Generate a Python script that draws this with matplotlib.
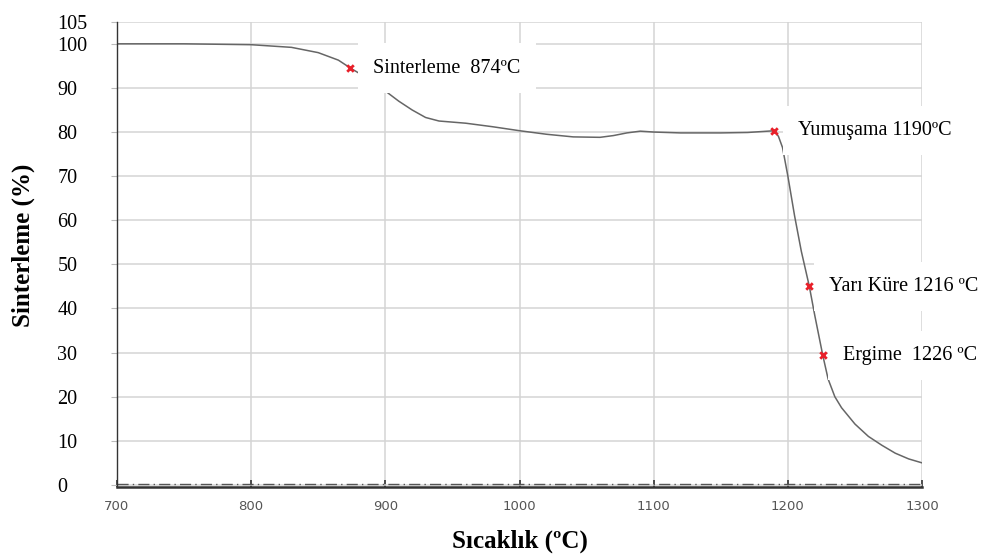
import matplotlib
matplotlib.use("Agg")
import matplotlib.pyplot as plt

temps = [700, 750, 800, 830, 850, 865, 874, 885, 900, 910, 920, 930, 940, 960, 980, 1000, 1020,
         1040, 1060, 1070, 1080, 1090, 1100, 1120, 1150, 1170, 1190, 1193, 1196, 1200, 1205, 1210,
         1216, 1220, 1226, 1230, 1235, 1240, 1250, 1260, 1270, 1280, 1290, 1300]
sinter = [100, 100, 99.8, 99.2, 98.0, 96.3, 94.5, 92.5, 89.3, 87.0, 85.0, 83.3, 82.5, 82.0, 81.2, 80.3, 79.5,
          78.9, 78.8, 79.2, 79.8, 80.2, 80.0, 79.8, 79.8, 79.9, 80.3, 79.0, 76.5, 70.0, 61.0, 53.0,
          45.0, 38.5, 29.4, 24.0, 20.0, 17.5, 13.8, 11.0, 9.0, 7.2, 5.9, 5.0]

point_temps = [874, 1190, 1216, 1226]
point_vals = [94.5, 80.3, 45.0, 29.4]
point_labels = ["Sinterleme  874ºC", "Yumuşama 1190ºC", "Yarı Küre 1216 ºC", "Ergime  1226 ºC"]
label_offsets = [(16.5, 0), (17, 0), (14.5, 0), (14.5, 0)]

xticks = [700, 800, 900, 1000, 1100, 1200, 1300]
yticks = [0, 10, 20, 30, 40, 50, 60, 70, 80, 90, 100, 105]

serif = ["Liberation Serif", "DejaVu Serif"]

fig = plt.figure(figsize=(9.83, 5.58), dpi=100)
ax = fig.add_axes([0.119, 0.127, 0.819, 0.834])

ax.plot(temps, sinter, color="#666666", lw=1.1, zorder=2)
ax.axhline(0.3, color="#555555", lw=1.0, ls=(0, (8, 3, 1, 3)), zorder=2)
ax.scatter(point_temps, point_vals, marker="x", color="#e8202a", s=22, lw=2, zorder=5)

for t, v, lab, off in zip(point_temps, point_vals, point_labels, label_offsets):
    ax.annotate(lab, (t, v), xytext=off, textcoords="offset points", va="center", ha="left",
                fontsize=14.5, family=serif, color="black", zorder=4,
                bbox=dict(boxstyle="square,pad=0.75", fc="white", ec="none"))

ax.set_xlim(700, 1300)
ax.set_ylim(-0.5, 105)
ax.set_xticks(xticks)
ax.set_yticks(yticks)
ax.set_xticklabels([str(x) for x in xticks], family=["DejaVu Sans"], fontsize=9.5, color="#555555")
ax.set_yticklabels([str(y) for y in yticks], family=serif, fontsize=14.5, ha="left")
ax.tick_params(axis="x", direction="in", length=5, width=1.2, pad=9, colors="#333333", labelcolor="#555555")
ax.tick_params(axis="y", direction="out", length=4, width=0.8, pad=39, colors="#bbbbbb", labelcolor="black")

ax.grid(True, color="#d4d4d4", lw=1.1, zorder=0)
ax.set_axisbelow(True)
for s in ["top", "right"]:
    ax.spines[s].set_visible(False)
ax.spines["left"].set_color("#333333")
ax.spines["left"].set_linewidth(1.0)
ax.spines["bottom"].set_color("#333333")
ax.spines["bottom"].set_linewidth(1.8)

ax.set_xlabel("Sıcaklık (ºC)", family=serif, fontsize=18, fontweight="bold", labelpad=12)
ax.set_ylabel("Sinterleme (%)", family=serif, fontsize=18, fontweight="bold")
ax.yaxis.set_label_coords(-0.102, 0.52)

fig.savefig("out.png", dpi=100)
